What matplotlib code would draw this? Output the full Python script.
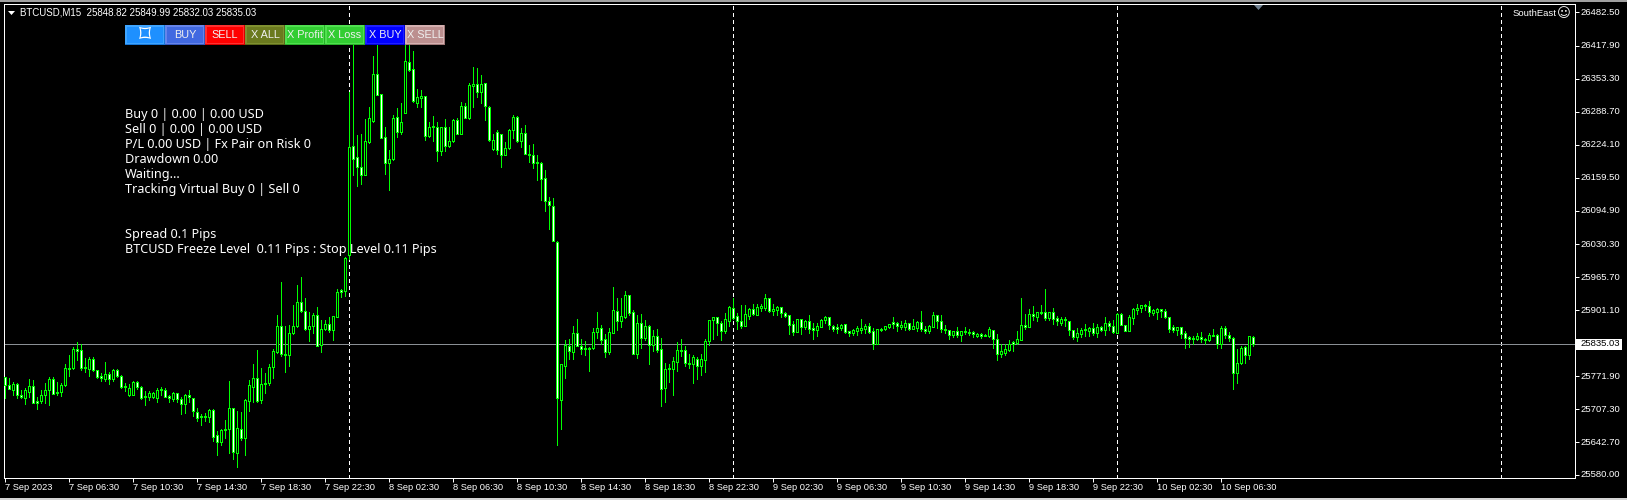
import numpy as np
import matplotlib
matplotlib.use("Agg")
import matplotlib.pyplot as plt
from matplotlib.patches import Rectangle, Polygon
from matplotlib.transforms import ScaledTranslation

# candles BTCUSD M15 (10 bars per row)
opens = [
    25770,25755,25746,25757,25735,25729,25742,25753,25723,25723,
    25735,25746,25767,25741,25741,25754,25789,25788,25825,25823,
    25790,25786,25805,25784,25772,25766,25776,25767,25784,25772,
    25753,25735,25736,25760,25752,25733,25731,25731,25729,25746,
    25746,25733,25728,25739,25728,25718,25735,25729,25703,25692,
    25694,25693,25707,25657,25644,25668,25670,25710,25623,25670,
    25652,25724,25751,25769,25726,25756,25758,25791,25819,25871,
    25816,25814,25856,25871,25918,25900,25864,25871,25891,25834,
    25865,25875,25862,25888,25940,25939,26009,26222,26200,26181,
    26166,26230,26270,26362,26323,26239,26189,26196,26278,26250,
    26287,26386,26373,26306,26316,26319,26242,26260,26259,26211,
    26258,26222,26231,26272,26246,26299,26277,26339,26342,26328,
    26344,26297,26215,26249,26246,26205,26217,26252,26278,26232,
    26248,26207,26205,26190,26189,26159,26114,26104,26035,25726,
    25793,25832,25820,25856,25832,25828,25826,25827,25859,25866,
    25844,25820,25857,25899,25879,25888,25930,25897,25816,25877,
    25847,25871,25834,25851,25825,25750,25786,25787,25800,25823,
    25823,25798,25795,25806,25793,25804,25840,25881,25887,25877,
    25860,25880,25905,25889,25879,25871,25890,25903,25892,25906,
    25906,25924,25900,25901,25907,25896,25891,25874,25859,25883,
    25868,25880,25866,25863,25869,25881,25887,25871,25868,25866,
    25874,25860,25856,25860,25862,25864,25870,25860,25836,25862,
    25864,25868,25878,25877,25868,25869,25876,25865,25866,25878,
    25864,25860,25868,25892,25879,25864,25862,25853,25860,25853,
    25860,25859,25858,25850,25854,25853,25851,25862,25844,25816,
    25817,25824,25838,25837,25843,25873,25868,25894,25888,25897,
    25898,25885,25898,25886,25877,25881,25879,25862,25849,25855,
    25864,25861,25866,25857,25868,25863,25877,25871,25857,25893,
    25873,25861,25886,25902,25905,25912,25909,25896,25897,25903,
    25899,25887,25868,25863,25868,25856,25848,25847,25845,25848,
    25844,25842,25851,25853,25836,25866,25853,25846,25779,25797,
    25829,25814,25848.82,
]
highs = [
    25770,25768,25761,25758,25746,25750,25767,25765,25732,25746,
    25758,25771,25770,25761,25758,25795,25813,25830,25838,25835,
    25808,25809,25810,25785,25778,25799,25781,25787,25787,25774,
    25758,25757,25763,25763,25753,25744,25744,25742,25750,25752,
    25750,25735,25742,25740,25732,25737,25745,25730,25711,25698,
    25700,25708,25709,25665,25670,25687,25763,25711,25704,25703,
    25727,25765,25795,25823,25788,25778,25795,25825,25892,25956,
    25871,25872,25911,25950,25965,25924,25898,25896,25907,25882,
    25881,25887,25889,25942,25942,26005,26328,26440,26243,26245,
    26274,26297,26397,26422,26323,26259,26214,26282,26295,26305,
    26419,26419,26407,26334,26332,26319,26269,26280,26269,26259,
    26274,26259,26275,26276,26308,26305,26344,26376,26375,26360,
    26344,26300,26246,26252,26246,26230,26254,26282,26280,26256,
    26263,26224,26226,26205,26190,26174,26123,26121,26036,25795,
    25843,25844,25870,25884,25845,25841,25830,25867,25897,25872,
    25854,25866,25946,25924,25924,25938,25930,25901,25892,25894,
    25882,25872,25862,25864,25847,25797,25795,25810,25839,25845,
    25832,25815,25813,25809,25815,25845,25882,25888,25888,25879,
    25895,25909,25924,25895,25911,25911,25906,25914,25913,25914,
    25933,25924,25914,25909,25907,25897,25892,25879,25884,25884,
    25882,25892,25877,25877,25883,25890,25888,25873,25874,25875,
    25875,25861,25864,25870,25884,25874,25877,25866,25865,25867,
    25870,25875,25888,25878,25879,25882,25877,25884,25879,25899,
    25871,25872,25897,25892,25892,25872,25862,25860,25868,25860,
    25868,25864,25861,25857,25856,25855,25869,25862,25855,25835,
    25836,25843,25840,25860,25925,25894,25903,25909,25897,25911,
    25942,25898,25905,25890,25888,25888,25880,25862,25866,25866,
    25874,25868,25877,25875,25871,25887,25879,25881,25895,25896,
    25873,25892,25906,25914,25912,25914,25919,25903,25905,25903,
    25903,25887,25872,25869,25868,25860,25851,25851,25856,25858,
    25846,25856,25864,25855,25871,25870,25859,25848,25826,25832,
    25831,25851,25849.99,
]
lows = [
    25729,25748,25735,25729,25730,25718,25732,25719,25709,25720,
    25719,25716,25737,25735,25733,25753,25772,25787,25804,25784,
    25781,25772,25783,25768,25763,25763,25757,25762,25770,25750,
    25744,25733,25735,25748,25727,25716,25726,25729,25722,25735,
    25731,25722,25724,25722,25698,25700,25722,25694,25685,25676,
    25685,25683,25646,25618,25638,25651,25623,25610,25595,25647,
    25618,25705,25722,25722,25720,25740,25755,25768,25817,25812,
    25781,25792,25855,25869,25898,25862,25841,25856,25831,25820,
    25862,25859,25843,25887,25927,25928,26001,26165,26144,26147,
    26166,26227,26269,26321,26237,26167,26136,26194,26240,26246,
    26286,26369,26308,26297,26297,26233,26240,26232,26193,26205,
    26211,26220,26230,26245,26245,26276,26275,26297,26318,26306,
    26272,26232,26214,26207,26181,26204,26215,26237,26230,26220,
    26206,26191,26178,26155,26116,26094,26059,26037,25638,25670,
    25769,25805,25806,25831,25815,25813,25782,25825,25846,25836,
    25810,25815,25856,25862,25869,25885,25892,25816,25807,25827,
    25843,25796,25822,25819,25713,25722,25761,25735,25782,25811,
    25793,25789,25759,25767,25774,25780,25833,25844,25852,25843,
    25857,25870,25884,25864,25867,25870,25884,25891,25892,25900,
    25901,25898,25892,25892,25887,25888,25855,25853,25858,25855,
    25864,25856,25844,25851,25868,25877,25864,25861,25857,25862,
    25857,25851,25853,25853,25857,25857,25856,25825,25835,25861,
    25862,25866,25867,25861,25864,25862,25862,25864,25861,25861,
    25856,25856,25868,25867,25859,25856,25844,25848,25849,25841,
    25854,25853,25849,25848,25846,25851,25849,25827,25804,25809,
    25814,25822,25821,25836,25843,25864,25868,25881,25879,25893,
    25881,25881,25875,25872,25872,25870,25853,25845,25841,25848,
    25851,25851,25853,25849,25861,25853,25862,25856,25856,25872,
    25860,25860,25874,25894,25897,25901,25890,25892,25884,25888,
    25885,25859,25859,25853,25846,25827,25830,25836,25843,25839,
    25836,25840,25851,25827,25827,25846,25840,25747,25759,25796,
    25797,25806,25832.03,
]
closes = [
    25755,25748,25756,25735,25731,25745,25753,25720,25720,25735,
    25746,25766,25738,25739,25754,25788,25787,25825,25822,25789,
    25789,25805,25785,25771,25769,25776,25767,25785,25773,25752,
    25751,25749,25761,25752,25729,25731,25739,25739,25746,25748,
    25731,25729,25739,25728,25718,25735,25731,25705,25691,25694,
    25692,25707,25654,25644,25668,25670,25710,25625,25671,25651,
    25726,25754,25769,25724,25756,25759,25790,25821,25871,25815,
    25814,25856,25871,25918,25900,25864,25871,25891,25832,25865,
    25875,25863,25889,25936,25936,26003,26220,26197,26181,26166,
    26231,26276,26362,26322,26238,26189,26196,26276,26250,26269,
    26387,26370,26310,26317,26319,26242,26258,26258,26211,26258,
    26222,26231,26272,26246,26300,26277,26340,26342,26328,26343,
    26300,26233,26233,26214,26205,26217,26252,26278,26232,26248,
    26207,26205,26189,26189,26158,26115,26106,26037,25729,25795,
    25834,25822,25856,25832,25826,25826,25828,25859,25866,25843,
    25820,25858,25901,25879,25889,25930,25896,25816,25877,25847,
    25871,25834,25851,25824,25748,25787,25788,25801,25823,25822,
    25798,25796,25809,25793,25805,25840,25881,25887,25877,25861,
    25883,25908,25886,25880,25871,25893,25903,25893,25908,25909,
    25925,25900,25903,25907,25896,25890,25873,25858,25883,25869,
    25880,25864,25863,25870,25882,25887,25872,25864,25865,25873,
    25859,25857,25862,25866,25866,25870,25858,25836,25864,25864,
    25870,25875,25875,25871,25872,25876,25864,25870,25878,25864,
    25861,25870,25892,25879,25864,25862,25853,25860,25853,25860,
    25858,25857,25854,25854,25851,25851,25864,25845,25816,25821,
    25825,25836,25836,25844,25873,25869,25893,25890,25897,25895,
    25886,25898,25884,25879,25883,25884,25862,25849,25856,25862,
    25862,25866,25856,25868,25863,25877,25871,25858,25893,25873,
    25861,25887,25903,25905,25911,25909,25898,25901,25903,25899,
    25887,25865,25863,25868,25855,25847,25845,25845,25850,25844,
    25842,25852,25852,25836,25866,25853,25847,25779,25797,25828,
    25814,25850,25835.03,
]

# axes labels
price_ticks = [25580.00, 25642.70, 25707.30, 25771.90, 25901.10, 25965.70, 26030.30,
               26094.90, 26159.50, 26224.10, 26288.70, 26353.30, 26417.90, 26482.50]
price_labels = ["25580.00", "25642.70", "25707.30", "25771.90", "25901.10", "25965.70", "26030.30",
                "26094.90", "26159.50", "26224.10", "26288.70", "26353.30", "26417.90", "26482.50"]
time_labels = ["7 Sep 2023", "7 Sep 06:30", "7 Sep 10:30", "7 Sep 14:30", "7 Sep 18:30", "7 Sep 22:30",
               "8 Sep 02:30", "8 Sep 06:30", "8 Sep 10:30", "8 Sep 14:30", "8 Sep 18:30", "8 Sep 22:30",
               "9 Sep 02:30", "9 Sep 06:30", "9 Sep 10:30", "9 Sep 14:30", "9 Sep 18:30", "9 Sep 22:30",
               "10 Sep 02:30", "10 Sep 06:30"]
bars_per_label = 16
day_separators = [86, 182, 278, 374]
last_price = 25835.03

# texts and buttons of the expert advisor on the chart
header = "BTCUSD,M15  25848.82 25849.99 25832.03 25835.03"
info_lines = ["Buy 0 | 0.00 | 0.00 USD", "Sell 0 | 0.00 | 0.00 USD", "P/L 0.00 USD | Fx Pair on Risk 0",
              "Drawdown 0.00", "Waiting...", "Tracking Virtual Buy 0 | Sell 0"]
info_y = [118, 133, 148, 163, 178, 193]
spread_lines = ["Spread 0.1 Pips", "BTCUSD Freeze Level  0.11 Pips : Stop Level 0.11 Pips"]
spread_y = [238, 253]
button_names = ["\u2311", "BUY", "SELL", "X ALL", "X Profit", "X Loss", "X BUY", "X SELL"]
button_colors = ["#1E90FF", "#4169E1", "#FF0000", "#6B7A1E", "#32CD32", "#32CD32", "#0000FF", "#BC8F8F"]
button_light = ["#3FA5FF", "#6685EA", "#FF3030", "#7F9030", "#4FE04F", "#4FE04F", "#2020FF", "#D4B0B0"]
button_dark = ["#1878D8", "#3558C0", "#D80000", "#5A6818", "#28B028", "#28B028", "#0000D8", "#A07878"]

W, H = 1627, 500
LEFT, RIGHT, TOP, BOTTOM = 4, 1574.5, 3.5, 477.5
PX = 0.72  # 1 pixel in points at dpi 100
FONT = "Liberation Sans"


def fx(x):
    return x / W


def fy(y):
    return 1 - y / H


def label(x, y, s, **kw):
    # text placed in image pixels
    kw.setdefault("color", "white")
    kw.setdefault("fontsize", 6.8)
    kw.setdefault("family", FONT)
    kw.setdefault("va", "center")
    return fig.text(fx(x), fy(y), s, **kw)


opens = np.array(opens, dtype=float)
highs = np.array(highs, dtype=float)
lows = np.array(lows, dtype=float)
closes = np.array(closes, dtype=float)
idx = np.arange(len(opens))

fig = plt.figure(figsize=(W / 100, H / 100), dpi=100, facecolor="black")
ax = fig.add_axes([fx(LEFT), fy(BOTTOM), fx(RIGHT - LEFT), (BOTTOM - TOP) / H], facecolor="black")

# window edges of the terminal
fig.add_artist(Rectangle((0, fy(1.5)), 1, 1.5 / H, transform=fig.transFigure, color="#A0A0A0", lw=0))
fig.add_artist(Rectangle((0, 0), 1, 2.5 / H, transform=fig.transFigure, color="#D4D4D4", lw=0))

# one bar every 4 px, first one at x=5
ax.set_xlim((LEFT - 5) / 4, (RIGHT - 5) / 4)
# 1 px = 1.953 USD, the last price sits on y=344
ax.set_ylim(25835.03 - (BOTTOM - 344) * 1.953, 25835.03 + (344 - TOP) * 1.953)

# separators and price line are behind the candles
ax.vlines(day_separators, *ax.get_ylim(), color="white", lw=PX, linestyles=(0, (4, 3)), zorder=1, antialiased=False)
ax.axhline(last_price, color="#8a8f94", lw=PX, zorder=1, antialiased=False)

# candles: wick then body, black = up, white = down
ax.vlines(idx, lows, highs, color="#00FF00", lw=PX, zorder=2, antialiased=False)
bottoms = np.minimum(opens, closes)
heights = np.abs(closes - opens)
fills = ["black" if c >= o else "white" for o, c in zip(opens, closes)]
ax.bar(idx, heights, width=0.5, bottom=bottoms, color=fills, edgecolor="#00FF00", linewidth=PX, zorder=3,
       antialiased=False)

# frame and ticks
for s in ax.spines.values():
    s.set_color("white")
    s.set_linewidth(PX)
ax.yaxis.tick_right()
ax.set_yticks(price_ticks)
ax.set_yticklabels(price_labels, family=FONT, fontsize=6.8, color="white")
ax.set_xticks(idx[::bars_per_label][:len(time_labels)])
ax.set_xticklabels(time_labels, family=FONT, fontsize=6.65, color="white", ha="left")
ax.tick_params(axis="y", length=3, width=PX, color="white", pad=1.5)
ax.tick_params(axis="x", length=3, width=PX, color="white", pad=1.2)
for t in ax.get_yticklabels():
    t.set_transform(t.get_transform() + ScaledTranslation(0, 1 / 100, fig.dpi_scale_trans))

# last price flag
fig.add_artist(Rectangle((fx(1576), fy(349.5)), 46 / W, 10.5 / H, transform=fig.transFigure, color="white", lw=0,
                         zorder=5))
label(1580, 343.5, "25835.03", color="black", zorder=6)

# header, with the small menu triangle
fig.add_artist(Polygon([(fx(8), fy(11)), (fx(15), fy(11)), (fx(11.5), fy(15))], transform=fig.transFigure,
                       color="white", lw=0))
label(20, 12.5, header, fontsize=7)
label(1557, 13.5, "SouthEast", ha="right")
label(1563.5, 13.5, "\u263A", family="DejaVu Sans", fontsize=9.5, ha="center")

# little shift marker at the top
fig.add_artist(Polygon([(fx(1254), fy(5)), (fx(1263), fy(5)), (fx(1258.5), fy(10))], transform=fig.transFigure,
                       color="#708090", lw=0))

# buttons
for i, name in enumerate(button_names):
    x0 = 125 + 40 * i
    fig.add_artist(Rectangle((fx(x0), fy(45)), 40 / W, 20 / H, transform=fig.transFigure, color=button_dark[i], lw=0,
                             zorder=7))
    fig.add_artist(Rectangle((fx(x0), fy(44)), 39 / W, 19 / H, transform=fig.transFigure, color=button_light[i], lw=0,
                             zorder=7))
    fig.add_artist(Rectangle((fx(x0 + 2), fy(43)), 36 / W, 16 / H, transform=fig.transFigure, color=button_colors[i],
                             lw=0, zorder=7))
    if i == 0:
        label(x0 + 20, 35, name, family="DejaVu Sans", fontsize=17, ha="center", zorder=8)
    else:
        label(x0 + 20, 35, name, fontsize=7.8, ha="center", color="#F0F0F0", zorder=8)

# info panel, on the baseline so the rows stay evenly spaced
for y, s in zip(info_y, info_lines):
    label(125, y, s, family="Noto Sans", fontsize=9.1, va="baseline", zorder=8)
for y, s in zip(spread_y, spread_lines):
    label(125, y, s, family="Noto Sans", fontsize=9.1, va="baseline", zorder=8)

fig.savefig("out.png", dpi=100, facecolor="black")
